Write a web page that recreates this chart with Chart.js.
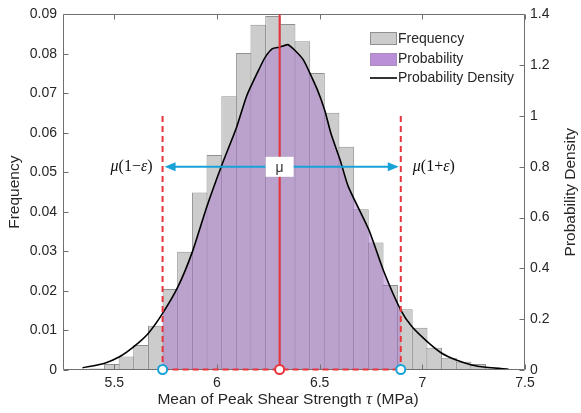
<!DOCTYPE html>
<html>
<head>
<meta charset="utf-8">
<script src="https://cdn.jsdelivr.net/npm/chart.js@4.4.1/dist/chart.umd.min.js"></script>
<style>
  html, body { margin: 0; padding: 0; background: #fff; }
  #wrap { width: 581px; height: 413px; }
</style>
</head>
<body>
<div id="wrap"><canvas id="chart" width="581" height="413"></canvas></div>
<script>
// histogram bins (centres, MPa) and their frequencies
const binCenters = [5.345, 5.416, 5.488, 5.559, 5.630, 5.702, 5.773, 5.844, 5.916, 5.987,
  6.059, 6.130, 6.201, 6.273, 6.344, 6.416, 6.487, 6.558, 6.630, 6.701,
  6.773, 6.844, 6.915, 6.987, 7.058, 7.130, 7.201, 7.272, 7.344];
const frequency = [0.0002, 0.0004, 0.0015, 0.0034, 0.0063, 0.0112, 0.0205, 0.0299, 0.0449, 0.0544,
  0.0693, 0.0802, 0.0874, 0.0896, 0.0876, 0.0832, 0.0752, 0.0651, 0.0565, 0.0407,
  0.0323, 0.0215, 0.0154, 0.0107, 0.0056, 0.0031, 0.0021, 0.0015, 0.0007];

// probability density curve
const densityX = [5.345, 5.45, 5.525, 5.595, 5.665, 5.735, 5.81, 5.88, 5.95, 6.025,
  6.095, 6.145, 6.21, 6.235, 6.27, 6.305, 6.345, 6.38, 6.42, 6.45,
  6.49, 6.525, 6.555, 6.6, 6.64, 6.74, 6.81, 6.895, 6.95, 7.025,
  7.095, 7.165, 7.24, 7.31, 7.42];
const density = [0.009, 0.026, 0.052, 0.092, 0.144, 0.223, 0.328, 0.465, 0.642, 0.81,
  0.955, 1.08, 1.193, 1.232, 1.265, 1.271, 1.281, 1.258, 1.222, 1.173,
  1.101, 1.022, 0.931, 0.826, 0.721, 0.551, 0.393, 0.236, 0.170, 0.111,
  0.066, 0.039, 0.020, 0.011, 0.003];

const xTicks = [5.5, 6, 6.5, 7, 7.5];
const freqTicks = [0, 0.01, 0.02, 0.03, 0.04, 0.05, 0.06, 0.07, 0.08, 0.09];
const densTicks = [0, 0.2, 0.4, 0.6, 0.8, 1, 1.2, 1.4];

const mu = 6.305, muLow = 5.735, muHigh = 6.895;
const arrowLevel = 0.8, dashTop = 1.0;   // on the density axis

const SANS = "'Liberation Sans', Arial, sans-serif";
const SERIF = "'Liberation Serif', 'Times New Roman', serif";
const RED = '#e8343c', BLUE = '#17a2d8', AXIS = '#707070', TXT = '#262626';
const TITLE = '15.5px ' + SANS;

Chart.defaults.font.family = SANS;
Chart.defaults.font.size = 14;
Chart.defaults.color = TXT;

const curve = densityX.map((x, i) => ({x, y: density[i]}));
const shaded = curve.filter(p => p.x >= muLow && p.x <= muHigh);
const bars = binCenters.map((x, i) => ({x, y: frequency[i]}));

// text runs of [string, font]
function drawRuns(ctx, runs, x, y, align){
  let w = 0;
  runs.forEach(r => { ctx.font = r[1]; w += ctx.measureText(r[0]).width; });
  let cx = align === 'right' ? x - w : align === 'center' ? x - w / 2 : x;
  ctx.textAlign = 'left'; ctx.textBaseline = 'middle';
  runs.forEach(r => { ctx.font = r[1]; ctx.fillText(r[0], cx, y); cx += ctx.measureText(r[0]).width; });
}
const it = 'italic 16px ' + SERIF, rm = '16px ' + SERIF;

const overlay = {
  id: 'overlay',
  afterDatasetsDraw(chart){
    const {ctx, chartArea: a, scales: {x, y, y2}} = chart;
    ctx.save();
    // box + inward ticks
    ctx.strokeStyle = AXIS; ctx.lineWidth = 1;
    const L = Math.round(a.left) + 0.5, R = Math.round(a.right) - 0.5;
    const T = Math.round(a.top) + 0.5, B = Math.round(a.bottom) - 0.5;
    ctx.beginPath();
    ctx.moveTo(L, T); ctx.lineTo(R, T); ctx.lineTo(R, B); ctx.lineTo(L, B); ctx.closePath();
    xTicks.forEach(v => { const px = Math.round(x.getPixelForValue(v)) + 0.5;
      ctx.moveTo(px, B); ctx.lineTo(px, B - 5); ctx.moveTo(px, T); ctx.lineTo(px, T + 5); });
    freqTicks.forEach(v => { const py = Math.round(y.getPixelForValue(v)) + 0.5;
      ctx.moveTo(L, py); ctx.lineTo(L + 5, py); });
    densTicks.forEach(v => { const py = Math.round(y2.getPixelForValue(v)) + 0.5;
      ctx.moveTo(R, py); ctx.lineTo(R - 5, py); });
    ctx.stroke();

    const xl = x.getPixelForValue(muLow), xh = x.getPixelForValue(muHigh), xm = x.getPixelForValue(mu);
    const yb = y2.getPixelForValue(0), yd = y2.getPixelForValue(dashTop), ya = y2.getPixelForValue(arrowLevel);

    // mean line
    ctx.strokeStyle = RED; ctx.lineWidth = 2;
    ctx.beginPath(); ctx.moveTo(xm, yb); ctx.lineTo(xm, a.top); ctx.stroke();
    // dashed bounds
    ctx.setLineDash([6, 4]);
    ctx.beginPath();
    ctx.moveTo(xl, yd); ctx.lineTo(xl, yb);
    ctx.moveTo(xh, yd); ctx.lineTo(xh, yb);
    ctx.moveTo(xl, yb - 0.5); ctx.lineTo(xh, yb - 0.5);
    ctx.stroke();
    ctx.setLineDash([]);

    // double arrow
    ctx.strokeStyle = BLUE; ctx.fillStyle = BLUE; ctx.lineWidth = 2;
    const x1 = xl + 2, x2 = xh - 2, ah = 11, aw = 4.5;
    ctx.beginPath(); ctx.moveTo(x1 + ah - 2, ya); ctx.lineTo(x2 - ah + 2, ya); ctx.stroke();
    ctx.beginPath(); ctx.moveTo(x1, ya); ctx.lineTo(x1 + ah, ya - aw); ctx.lineTo(x1 + ah, ya + aw); ctx.closePath(); ctx.fill();
    ctx.beginPath(); ctx.moveTo(x2, ya); ctx.lineTo(x2 - ah, ya - aw); ctx.lineTo(x2 - ah, ya + aw); ctx.closePath(); ctx.fill();

    // mu box
    ctx.fillStyle = '#fff';
    ctx.fillRect(xm - 14, ya - 10, 28, 20);
    ctx.fillStyle = '#333'; ctx.font = '14px ' + SANS; ctx.textAlign = 'center'; ctx.textBaseline = 'middle';
    ctx.fillText('μ', xm, ya + 1);

    ctx.fillStyle = '#111';
    drawRuns(ctx, [['μ', it], ['(1−', rm], ['ε', it], [')', rm]], xl - 10, ya, 'right');
    drawRuns(ctx, [['μ', it], ['(1+', rm], ['ε', it], [')', rm]], xh + 12, ya, 'left');

    // end markers
    [[xl, BLUE], [xm, RED], [xh, BLUE]].forEach(m => {
      ctx.beginPath(); ctx.arc(m[0], yb - 0.5, 4.5, 0, Math.PI * 2);
      ctx.fillStyle = '#fff'; ctx.fill(); ctx.strokeStyle = m[1]; ctx.lineWidth = 2; ctx.stroke();
    });

    // legend
    const lx = 370, lw = 27;
    ctx.lineWidth = 1;
    ctx.fillStyle = '#cccccc'; ctx.fillRect(lx, 32, lw, 13);
    ctx.strokeStyle = '#909090'; ctx.strokeRect(lx + 0.5, 32.5, lw - 1, 12);
    ctx.fillStyle = '#bb8ed8'; ctx.fillRect(lx, 53, lw, 13);
    ctx.strokeStyle = '#a98bc0'; ctx.strokeRect(lx + 0.5, 53.5, lw - 1, 12);
    ctx.strokeStyle = '#000'; ctx.lineWidth = 1.6;
    ctx.beginPath(); ctx.moveTo(lx, 78); ctx.lineTo(lx + lw, 78); ctx.stroke();
    ctx.fillStyle = TXT; ctx.font = '14px ' + SANS; ctx.textAlign = 'left'; ctx.textBaseline = 'middle';
    ctx.fillText('Frequency', lx + lw + 1, 39.5);
    ctx.fillText('Probability', lx + lw + 1, 59.5);
    ctx.fillText('Probability Density', lx + lw + 1, 78.5);

    // x title with italic tau
    ctx.fillStyle = TXT;
    drawRuns(ctx, [['Mean of Peak Shear Strength ', TITLE], ['τ', 'italic 17px ' + SERIF], [' (MPa)', TITLE]],
      (a.left + a.right) / 2 - 6, 400, 'center');

    // right title, reading bottom to top
    ctx.translate(571, (a.top + a.bottom) / 2);
    ctx.rotate(-Math.PI / 2);
    ctx.font = TITLE; ctx.textAlign = 'center'; ctx.textBaseline = 'middle';
    ctx.fillText('Probability Density', 0, 0);
    ctx.restore();
  }
};

new Chart(document.getElementById('chart').getContext('2d'), {
  type: 'bar',
  data: {
    datasets: [
      { type: 'line', label: 'Probability Density', data: curve, yAxisID: 'y2',
        borderColor: '#000', borderWidth: 1.6, pointRadius: 0, fill: false, tension: 0.2, order: 0 },
      { type: 'line', label: 'Probability', data: shaded, yAxisID: 'y2',
        borderWidth: 0, borderColor: 'rgba(0,0,0,0)', pointRadius: 0, fill: 'origin',
        backgroundColor: 'rgba(165,110,205,0.45)', tension: 0.2, order: 1 },
      { type: 'bar', label: 'Frequency', data: bars, yAxisID: 'y',
        backgroundColor: '#cccccc', borderColor: '#909090', borderWidth: 1,
        barPercentage: 1.07, categoryPercentage: 1, order: 2 }
    ]
  },
  options: {
    responsive: false,
    animation: false,
    devicePixelRatio: 1,
    layout: { padding: { top: 14, left: 0, right: 0, bottom: 0 } },
    plugins: { legend: { display: false }, tooltip: { enabled: false } },
    scales: {
      x: {
        type: 'linear', min: 5.25, max: 7.5, offset: false,
        grid: { display: false, drawTicks: false }, border: { display: false },
        afterBuildTicks: s => { s.ticks = xTicks.map(v => ({value: v})); },
        ticks: { padding: 5, maxRotation: 0, callback: v => String(v) },
        afterFit: s => { s.height = 43; }
      },
      y: {
        position: 'left', min: 0, max: 0.09,
        grid: { display: false, drawTicks: false }, border: { display: false },
        afterBuildTicks: s => { s.ticks = freqTicks.map(v => ({value: v})); },
        ticks: { padding: 6, callback: v => v === 0 ? '0' : v.toFixed(2) },
        afterFit: s => { s.width = 63; },
        title: { display: true, text: 'Frequency', font: { size: 15.5 }, padding: { top: 5, bottom: 0 } }
      },
      y2: {
        position: 'right', min: 0, max: 1.4,
        grid: { display: false, drawTicks: false }, border: { display: false },
        afterBuildTicks: s => { s.ticks = densTicks.map(v => ({value: v})); },
        ticks: { padding: 5, callback: v => String(+v.toFixed(1)) },
        afterFit: s => { s.width = 56; }
      }
    }
  },
  plugins: [overlay]
});
</script>
</body>
</html>
